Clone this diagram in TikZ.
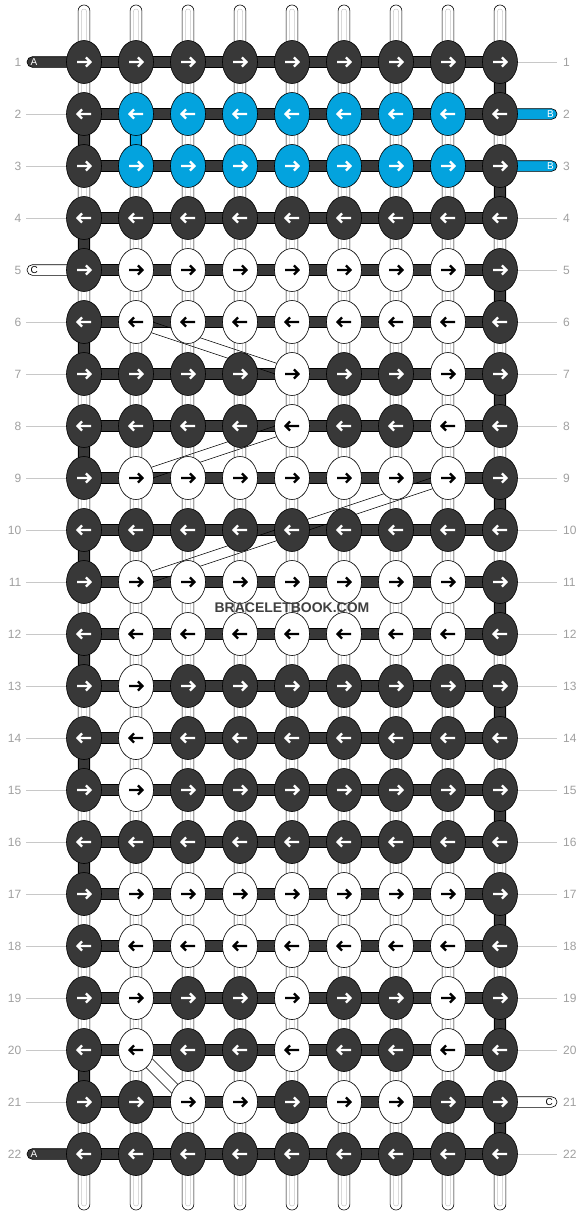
\documentclass[tikz,border=0pt]{standalone}
\usepackage{fontspec}
\setmainfont{Liberation Sans}
\usetikzlibrary{calc,shapes.geometric}
\definecolor{dk}{RGB}{56,56,56}
\definecolor{bl}{RGB}{3,163,222}
\definecolor{lbl}{RGB}{160,160,160}
\definecolor{ln}{RGB}{200,200,200}
\definecolor{wm}{RGB}{64,64,64}
\definecolor{kfd}{RGB}{56,56,56}
\definecolor{kfw}{RGB}{255,255,255}
\definecolor{kfb}{RGB}{3,163,222}
\definecolor{kad}{RGB}{255,255,255}
\definecolor{kaw}{RGB}{0,0,0}
\definecolor{kab}{RGB}{255,255,255}
\begin{document}
\begin{tikzpicture}[x=1pt,y=-1pt,
  knot/.style={ellipse, draw=black, line width=0.6pt, fill=kf#1, minimum width=35pt, minimum height=43pt, inner sep=0pt},
  arr/.style={draw=ka#1, line width=2.3pt, line cap=butt, line join=miter},
  bar/.style={draw=black, line width=0.6pt, fill=dk},
  seg/.style={draw=black, line width=0.6pt, fill=#1},
  tail/.style={draw=black, line width=0.6pt, fill=#1, rounded corners=5.3pt},
  band/.style={draw=black, line width=0.6pt},
  rownum/.style={text=lbl, font=\fontsize{12}{14}\selectfont, inner sep=0pt},
  taillab/.style={font=\fontsize{10}{12}\selectfont, inner sep=0pt, text=#1},
  guide/.style={draw=ln, line width=0.8pt},
  strng/.style={draw=black, line width=0.6pt, fill=white, rounded corners=5.8pt},
  strand/.style={draw=black!22, line width=0.5pt, rounded corners=2.5pt},
]
\useasboundingbox (0,0) rectangle (584,1216);
\fill[white] (0,0) rectangle (584,1216);
% grid coordinates
\foreach \r in {1,...,22}{
  \foreach \c in {1,...,9}{
    \coordinate (p-\r-\c) at ({32+52*\c},{10+52*\r});
  }
}
% vertical strings
\foreach \c in {1,...,9}{
  \draw[strng] ($(p-1-\c)+(-5.9,-57)$) rectangle ($(p-22-\c)+(5.9,56)$);
  \draw[strand] ($(p-1-\c)+(-2.6,-53)$) rectangle ($(p-22-\c)+(2.6,52)$);
}
% coloured vertical segments
\foreach \r/\c/\col in {2/1/dk,4/1/dk,6/1/dk,8/1/dk,10/1/dk,12/1/dk,14/1/dk,16/1/dk,20/1/dk,
  1/9/dk,3/9/dk,5/9/dk,7/9/dk,9/9/dk,11/9/dk,13/9/dk,15/9/dk,17/9/dk,19/9/dk,21/9/dk,2/2/bl}{
  \draw[seg=\col] ($(p-\r-\c)+(-5.4,0)$) rectangle ($(p-\r-\c)+(5.4,52)$);
}
% tails
\draw[tail=dk] ($(p-1-1)+(-57,-5.3)$) rectangle ($(p-1-1)+(0,5.3)$);
\draw[tail=white] ($(p-5-1)+(-57,-5.3)$) rectangle ($(p-5-1)+(0,5.3)$);
\draw[tail=dk] ($(p-22-1)+(-57,-5.3)$) rectangle ($(p-22-1)+(0,5.3)$);
\draw[tail=bl] ($(p-2-9)+(0,-5.3)$) rectangle ($(p-2-9)+(57,5.3)$);
\draw[tail=bl] ($(p-3-9)+(0,-5.3)$) rectangle ($(p-3-9)+(57,5.3)$);
\draw[tail=white] ($(p-21-9)+(0,-5.3)$) rectangle ($(p-21-9)+(57,5.3)$);
\node[taillab=white, anchor=west] (ta1) at ($(p-1-1)+(-53.5,0)$) {A};
\node[taillab=black, anchor=west] (tc5) at ($(p-5-1)+(-53.5,0)$) {C};
\node[taillab=white, anchor=west] (ta22) at ($(p-22-1)+(-53.5,0)$) {A};
\node[taillab=white, anchor=east] (tb2) at ($(p-2-9)+(54,0)$) {B};
\node[taillab=white, anchor=east] (tb3) at ($(p-3-9)+(54,0)$) {B};
\node[taillab=black, anchor=east] (tc21) at ($(p-21-9)+(53,0)$) {C};
% horizontal bars
\foreach \r in {1,...,22}{
  \draw[bar] ($(p-\r-1)+(0,-5.3)$) rectangle ($(p-\r-9)+(0,5.3)$);
}
% diagonal strands
\foreach \ra/\ca/\rb/\cb in {6/2/7/5, 8/5/9/2, 9/8/11/2, 20/2/21/3}{
  \draw[band] ($(p-\ra-\ca)!5.3pt!90:(p-\rb-\cb)$) -- ($(p-\rb-\cb)!5.3pt!-90:(p-\ra-\ca)$);
  \draw[band] ($(p-\ra-\ca)!5.3pt!-90:(p-\rb-\cb)$) -- ($(p-\rb-\cb)!5.3pt!90:(p-\ra-\ca)$);
}
% knots
\foreach \r/\cs in {
  1/{d,d,d,d,d,d,d,d,d},
  2/{d,b,b,b,b,b,b,b,d},
  3/{d,b,b,b,b,b,b,b,d},
  4/{d,d,d,d,d,d,d,d,d},
  5/{d,w,w,w,w,w,w,w,d},
  6/{d,w,w,w,w,w,w,w,d},
  7/{d,d,d,d,w,d,d,w,d},
  8/{d,d,d,d,w,d,d,w,d},
  9/{d,w,w,w,w,w,w,w,d},
  10/{d,d,d,d,d,d,d,d,d},
  11/{d,w,w,w,w,w,w,w,d},
  12/{d,w,w,w,w,w,w,w,d},
  13/{d,w,d,d,d,d,d,d,d},
  14/{d,w,d,d,d,d,d,d,d},
  15/{d,w,d,d,d,d,d,d,d},
  16/{d,d,d,d,d,d,d,d,d},
  17/{d,w,w,w,w,w,w,w,d},
  18/{d,w,w,w,w,w,w,w,d},
  19/{d,w,d,d,w,d,d,w,d},
  20/{d,w,d,d,w,d,d,w,d},
  21/{d,d,w,w,d,w,w,d,d},
  22/{d,d,d,d,d,d,d,d,d}}{
  \pgfmathsetmacro\dir{ifthenelse(mod(\r,2)==1,1,-1)}
  \foreach \c [count=\i] in \cs {
    \node[knot=\c] (k-\r-\i) at (p-\r-\i) {};
    \begin{scope}[shift={(p-\r-\i)}, xscale=\dir]
      \draw[arr=\c] (-7,0) -- (6.2,0) (2,-4.6) -- (6.4,0) -- (2,4.6);
    \end{scope}
  }
}
% row numbers and guide lines
\foreach \r in {1,...,22}{
  \node[rownum, anchor=east] (ln-\r) at ($(p-\r-1)+(-62.5,0.5)$) {\r};
  \node[rownum, anchor=west] (rn-\r) at ($(p-\r-9)+(63,0.5)$) {\r};
}
\foreach \r in {2,3,4,6,7,8,9,10,11,12,13,14,15,16,17,18,19,20,21}{
  \draw[guide] ($(ln-\r.east)+(4.5,-0.5)$) -- (k-\r-1.west);
}
\foreach \r in {1,4,5,6,7,8,9,10,11,12,13,14,15,16,17,18,19,20,22}{
  \draw[guide] (k-\r-9.east) -- ($(rn-\r.west)+(-6,-0.5)$);
}
% watermark
\node[font=\bfseries\fontsize{14}{16}\selectfont, text=wm, inner sep=0pt] (wmk) at (292,607.5) {BRACELETBOOK.COM};
\end{tikzpicture}
\end{document}
